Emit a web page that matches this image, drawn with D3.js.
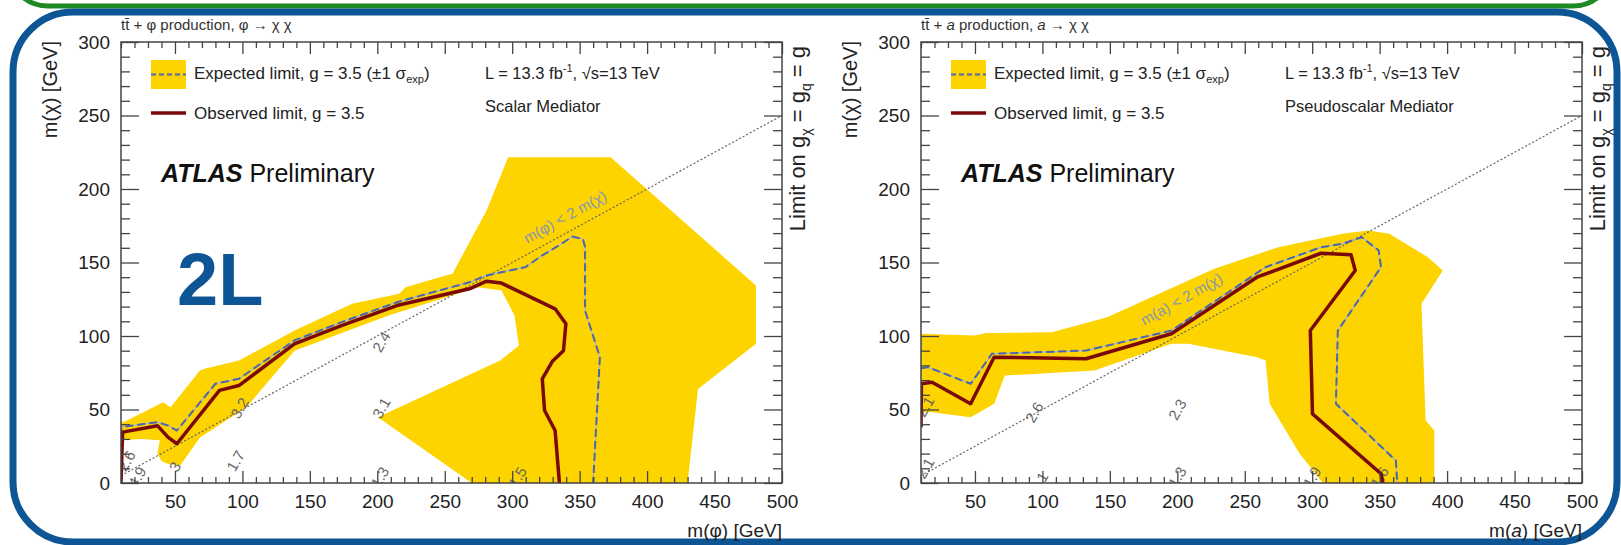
<!DOCTYPE html>
<html>
<head>
<meta charset="utf-8">
<script src="https://cdn.jsdelivr.net/npm/d3@7"></script>
<style>
body { margin: 0; background: #fff; }
text { font-family: "Liberation Sans", Arial, Helvetica, sans-serif; }
</style>
</head>
<body>
<script>
// axis ticks
var xMajor = [50, 100, 150, 200, 250, 300, 350, 400, 450, 500];
var yMajor = [0, 50, 100, 150, 200, 250, 300];

// kinematic line m(med) = 2 m(chi)
var kinLine = [[10, 5], [500, 250]];

// scalar mediator (left): expected +-1 sigma band, observed and expected limits
var scalarBand = [[10, 42.5], [11.7, 41.4], [41.3, 55], [46.7, 51.6], [68.5, 76.5], [72, 77.7], [97.4, 83.3],
  [138.6, 103.7], [181.3, 121.9], [216.2, 128.7], [221, 133.2], [246.3, 140], [255.7, 142.3],
  [281, 185.4], [297, 221.6], [373, 221.6], [480.7, 134.4], [480.7, 94.7], [437.7, 64], [430, 0],
  [270, 0], [200.4, 44.8], [291, 83.3], [305, 93.5], [301.7, 114], [292, 131], [274.8, 133.2],
  [208.3, 114], [138.6, 90], [103, 51.6], [68.5, 31], [54, 12], [45, 13], [40, 15], [37, 20],
  [38.8, 29], [24.5, 30], [11.7, 29], [10, 28]];
var scalarObs = [[10, 0], [11.2, 34.6], [37, 39], [45, 31], [51.4, 26.7], [83, 63], [97.4, 66.3],
  [138.6, 94.7], [173.4, 107], [214.5, 120.7], [268.4, 132.1], [281, 137.3], [292, 136],
  [331.8, 118.5], [339.8, 108.3], [338, 90], [330, 83], [322.3, 70.9], [324, 49.3], [331.8, 35.7],
  [335, 0]];
var scalarExp = [[10, 0], [10.2, 38], [37, 41.4], [45, 39], [51.4, 35.7], [80, 67.5], [97.4, 70.9],
  [138.6, 97], [173.4, 109.4], [214.5, 123], [268.4, 136.6], [281, 141.2], [309.6, 146.8],
  [322.3, 154.8], [336.5, 162.7], [344.5, 167.7], [352.4, 166], [354, 160.4], [354, 117.3],
  [365, 85.6], [360, 0]];
var scalarLabels = [["2.6", 14, 15], ["4.9", 22, 4], ["3", 50, 11], ["1.7", 95, 15], ["3.2", 98, 51],
  ["2.4", 203, 96], ["3.1", 203, 51], ["1.3", 202, 4], ["1.5", 304, 4]];

// pseudoscalar mediator (right)
var pseudoBand = [[10, 101.5], [49.9, 100.3], [58.5, 102], [107, 102.6], [148, 112.8], [227.4, 145.7],
  [274.9, 160.4], [322.4, 169.5], [341.4, 171.8], [357.2, 169.5], [385.8, 153.6], [396.8, 144.6],
  [381, 121.9], [384.1, 42.5], [390.5, 35.7], [390.5, 0], [308, 0], [290.7, 19.9], [268.5, 53.9],
  [265.4, 83.3], [259, 85.6], [208.3, 94.7], [195.6, 94.7], [138.6, 76.5], [72.1, 73.1],
  [64.2, 53.9], [46.8, 44.8], [18.2, 48.2], [10, 48.2]];
var pseudoObs = [[10, 38], [10.3, 67.5], [18.2, 68.6], [46.8, 53.9], [64.2, 85.6], [132.3, 84.5],
  [195.6, 101.5], [259, 140], [306.5, 156.3], [328.8, 155.2], [331.9, 144.6], [298.6, 103.7],
  [300.2, 47], [351, 6.3], [352.5, 0]];
var pseudoExp = [[10, 78], [15, 78.8], [46.8, 67.5], [62.6, 87.9], [132.3, 90.1], [195.6, 103.7],
  [265.4, 146.8], [306.5, 160.4], [322.4, 162.7], [336.7, 167.2], [349.3, 158.2], [351, 146.8],
  [319, 103.7], [317.6, 53.9], [362, 15.3], [363, 0]];
var pseudoLabels = [["2.1", 13, 52], ["2.1", 13, 10], ["2.6", 94, 48], ["2.3", 200, 50], ["1", 100, 4],
  ["1.3", 200, 4], ["1.9", 300, 4], ["1.6", 350, 4]];

var bandColor = "#fdd400", obsColor = "#7a0a0a", expColor = "#4a66ad";

var width = 661, height = 441, marginTop = 42;
var x = d3.scaleLinear().domain([10, 500]).range([0, width]);
var y = d3.scaleLinear().domain([0, 300]).range([height, 0]);
var line = d3.line().x(function(d) { return x(d[0]); }).y(function(d) { return y(d[1]); });

var svg = d3.select("body").append("svg")
    .attr("width", 1621)
    .attr("height", 545);

// slide boxes
svg.append("rect")
    .attr("x", 8).attr("y", -80).attr("width", 1605).attr("height", 86).attr("rx", 40)
    .attr("fill", "none").attr("stroke", "#1f8a24").attr("stroke-width", 5);
svg.append("rect")
    .attr("x", 13).attr("y", 12).attr("width", 1604).attr("height", 530).attr("rx", 60)
    .attr("fill", "#fff").attr("stroke", "#0d5595").attr("stroke-width", 7);

function drawPanel(ox, id, band, obs, exp, labels, med, mediatorName, kinText) {
  var g = svg.append("g")
      .attr("transform", "translate(" + ox + "," + marginTop + ")");

  g.append("clipPath").attr("id", "clip" + id)
    .append("rect").attr("width", width).attr("height", height);
  var plot = g.append("g").attr("clip-path", "url(#clip" + id + ")");

  plot.append("path")
      .attr("d", line(band) + "Z")
      .attr("fill", bandColor);

  plot.append("path")
      .attr("d", line(kinLine))
      .attr("fill", "none").attr("stroke", "#666").attr("stroke-width", 1.2)
      .attr("stroke-dasharray", "2,2");

  plot.append("text")
      .attr("transform", "translate(" + x(kinText[0]) + "," + y(kinText[1]) + ") rotate(-29)")
      .attr("text-anchor", "middle")
      .attr("font-size", 15).attr("fill", "#8795b8")
      .text("m(" + med + ") < 2 m(χ)");

  plot.selectAll(".clabel")
      .data(labels)
    .enter().append("text")
      .attr("class", "clabel")
      .attr("transform", function(d) { return "translate(" + x(d[1]) + "," + y(d[2]) + ") rotate(-60)"; })
      .attr("text-anchor", "middle").attr("dy", "0.35em")
      .attr("font-size", 15).attr("fill", "#666")
      .text(function(d) { return d[0]; });

  plot.append("path")
      .attr("d", line(exp))
      .attr("fill", "none").attr("stroke", "#a9b3cc").attr("stroke-width", 1.2);
  plot.append("path")
      .attr("d", line(exp))
      .attr("fill", "none").attr("stroke", expColor).attr("stroke-width", 2)
      .attr("stroke-dasharray", "8,4");

  plot.append("path")
      .attr("d", line(obs))
      .attr("fill", "none").attr("stroke", obsColor).attr("stroke-width", 3.5)
      .attr("stroke-linejoin", "round");

  // axes, ROOT style ticks on all four sides
  var xMinor = d3.range(10, 501, 10).filter(function(v) { return xMajor.indexOf(v) < 0; });
  var yMinor = d3.range(0, 301, 10).filter(function(v) { return yMajor.indexOf(v) < 0; });

  var axes = [
    [d3.axisBottom(x).tickValues(xMajor).tickSize(-12).tickPadding(12), "translate(0," + height + ")"],
    [d3.axisBottom(x).tickValues(xMinor).tickSize(-6).tickFormat(""), "translate(0," + height + ")"],
    [d3.axisTop(x).tickValues(xMajor).tickSize(-12).tickFormat(""), "translate(0,0)"],
    [d3.axisTop(x).tickValues(xMinor).tickSize(-6).tickFormat(""), "translate(0,0)"],
    [d3.axisLeft(y).tickValues(yMajor).tickSize(-18).tickPadding(11), "translate(0,0)"],
    [d3.axisLeft(y).tickValues(yMinor).tickSize(-9).tickFormat(""), "translate(0,0)"],
    [d3.axisRight(y).tickValues(yMajor).tickSize(-18).tickFormat(""), "translate(" + width + ",0)"],
    [d3.axisRight(y).tickValues(yMinor).tickSize(-9).tickFormat(""), "translate(" + width + ",0)"]
  ];
  axes.forEach(function(a) {
    var ax = g.append("g")
        .attr("transform", a[1])
        .call(a[0].tickSizeOuter(0));
    ax.select(".domain").remove();
    ax.selectAll("line").attr("stroke", "#444").attr("stroke-width", 1.3);
    ax.selectAll("text")
        .attr("font-family", "'Liberation Sans', Arial, sans-serif")
        .attr("font-size", 19).attr("fill", "#222");
  });

  g.append("rect")
      .attr("width", width).attr("height", height)
      .attr("fill", "none").attr("stroke", "#444").attr("stroke-width", 1.5);

  // axis titles
  var xt = g.append("text")
      .attr("x", width).attr("y", height + 54)
      .attr("text-anchor", "end").attr("font-size", 19).attr("fill", "#222");
  xt.append("tspan").text("m(");
  xt.append("tspan").attr("font-style", med === "a" ? "italic" : "normal").text(med);
  xt.append("tspan").text(") [GeV]");

  g.append("text")
      .attr("transform", "translate(-64,-1) rotate(-90)")
      .attr("text-anchor", "end").attr("font-size", 20).attr("fill", "#222")
      .text("m(χ) [GeV]");

  var rt = g.append("text")
      .attr("transform", "translate(" + (width + 23) + ",4) rotate(-90)")
      .attr("text-anchor", "end").attr("font-size", 22).attr("fill", "#222");
  rt.append("tspan").text("Limit on g");
  rt.append("tspan").attr("font-size", 14).attr("dy", 6).text("χ");
  rt.append("tspan").attr("dy", -6).text(" = g");
  rt.append("tspan").attr("font-size", 14).attr("dy", 6).text("q");
  rt.append("tspan").attr("dy", -6).text(" = g");

  // title above frame
  var tt = g.append("text")
      .attr("x", 0).attr("y", -12)
      .attr("font-size", 15).attr("fill", "#333");
  tt.append("tspan").text("tt\u0304 + ");
  tt.append("tspan").attr("font-style", med === "a" ? "italic" : "normal").text(med);
  tt.append("tspan").text(" production, ");
  tt.append("tspan").attr("font-style", med === "a" ? "italic" : "normal").text(med);
  tt.append("tspan").text(" → χ χ");

  // legend
  g.append("rect")
      .attr("x", 30).attr("y", 18).attr("width", 35).attr("height", 29)
      .attr("fill", bandColor);
  g.append("line")
      .attr("x1", 30).attr("x2", 65).attr("y1", 32.5).attr("y2", 32.5)
      .attr("stroke", expColor).attr("stroke-width", 2).attr("stroke-dasharray", "5,3");
  g.append("line")
      .attr("x1", 30).attr("x2", 65).attr("y1", 71).attr("y2", 71)
      .attr("stroke", obsColor).attr("stroke-width", 3.5);

  var le = g.append("text")
      .attr("x", 73).attr("y", 37)
      .attr("font-size", 17).attr("fill", "#222");
  le.append("tspan").text("Expected limit, g = 3.5 (±1 σ");
  le.append("tspan").attr("font-size", 11).attr("dy", 4).text("exp");
  le.append("tspan").attr("dy", -4).text(")");

  g.append("text")
      .attr("x", 73).attr("y", 77)
      .attr("font-size", 17).attr("fill", "#222")
      .text("Observed limit, g = 3.5");

  var lu = g.append("text")
      .attr("x", 364).attr("y", 37)
      .attr("font-size", 16.5).attr("fill", "#222");
  lu.append("tspan").text("L = 13.3 fb");
  lu.append("tspan").attr("font-size", 11).attr("dy", -7).text("-1");
  lu.append("tspan").attr("dy", 7).text(", √s=13 TeV");

  g.append("text")
      .attr("x", 364).attr("y", 70)
      .attr("font-size", 16.5).attr("fill", "#222")
      .text(mediatorName);

  var atl = g.append("text")
      .attr("x", 40).attr("y", 140)
      .attr("font-size", 25).attr("fill", "#111");
  atl.append("tspan").attr("font-weight", "bold").attr("font-style", "italic").text("ATLAS");
  atl.append("tspan").text(" Preliminary");

  return g;
}

var left = drawPanel(121, "s", scalarBand, scalarObs, scalarExp, scalarLabels, "φ", "Scalar Mediator", [341, 178]);
var right = drawPanel(921, "p", pseudoBand, pseudoObs, pseudoExp, pseudoLabels, "a", "Pseudoscalar Mediator", [205, 122]);

// channel tag
left.append("text")
    .attr("x", 56).attr("y", 263)
    .attr("font-size", 74).attr("font-weight", "bold").attr("fill", "#0d5595")
    .text("2L");
</script>
</body>
</html>
